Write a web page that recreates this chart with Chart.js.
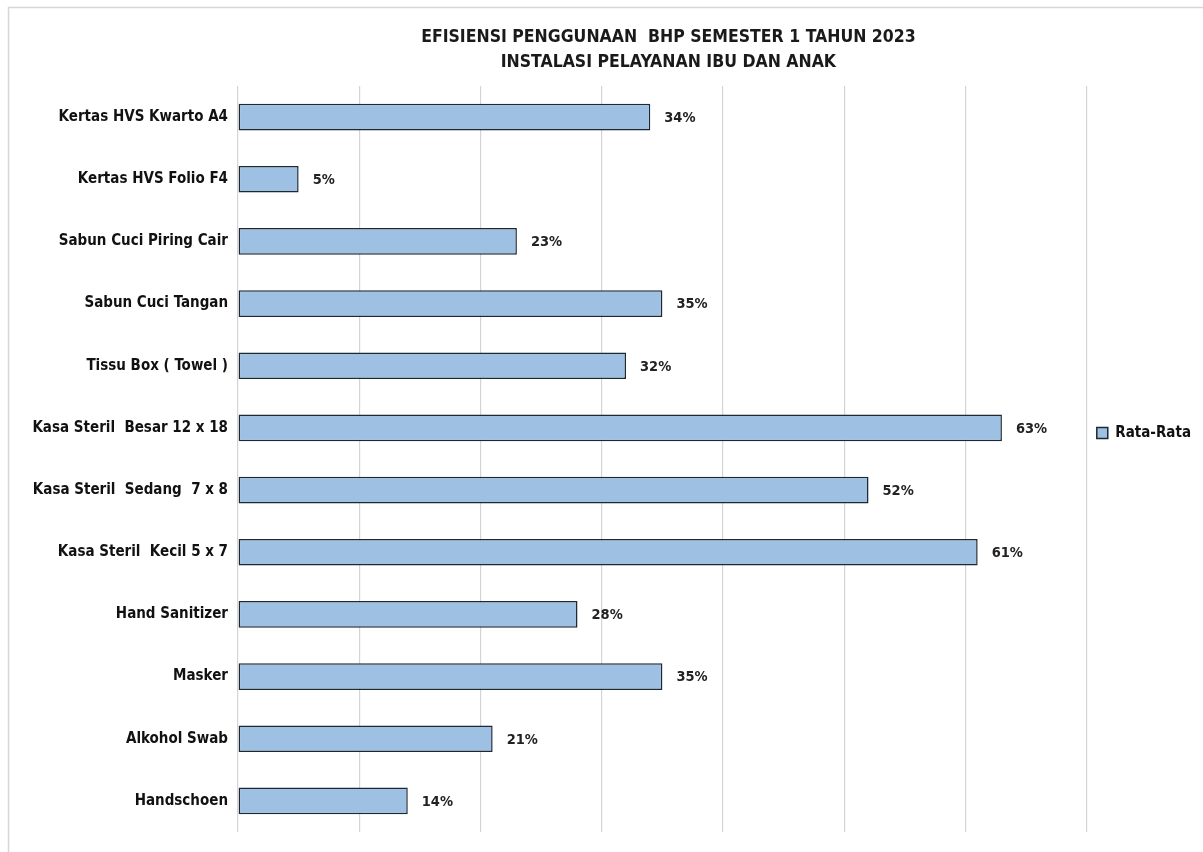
<!DOCTYPE html>
<html>
<head>
<meta charset="utf-8">
<script src="https://cdn.jsdelivr.net/npm/chart.js@4/dist/chart.umd.min.js"></script>
<style>
html,body{margin:0;padding:0;background:#fff;}
#wrap{width:1203px;height:852px;position:relative;}
</style>
</head>
<body>
<div id="wrap"><canvas id="c" width="1203" height="852"></canvas></div>
<script>
const titleLines = ["EFISIENSI PENGGUNAAN  BHP SEMESTER 1 TAHUN 2023", "INSTALASI PELAYANAN IBU DAN ANAK"];
const categories = [
  "Kertas HVS Kwarto A4",
  "Kertas HVS Folio F4",
  "Sabun Cuci Piring Cair",
  "Sabun Cuci Tangan",
  "Tissu Box ( Towel )",
  "Kasa Steril  Besar 12 x 18",
  "Kasa Steril  Sedang  7 x 8",
  "Kasa Steril  Kecil 5 x 7",
  "Hand Sanitizer",
  "Masker",
  "Alkohol Swab",
  "Handschoen"
];
const seriesName = "Rata-Rata";
const values = [34, 5, 23, 35, 32, 63, 52, 61, 28, 35, 21, 14];
const xMin = 0, xMax = 70, xStep = 10;

const FONT = "'Liberation Sans Narrow', 'DejaVu Sans Condensed', 'Arial Narrow', sans-serif";

const decor = {
  id: 'decor',
  afterLayout(chart) {
    const lg = chart.legend;
    if (lg) { lg.top -= 26; lg.bottom -= 26; }
  },
  beforeDraw(chart) {
    const ctx = chart.ctx;
    ctx.save();
    ctx.strokeStyle = '#d6d6d6';
    ctx.lineWidth = 1.5;
    ctx.beginPath();
    ctx.moveTo(8.5, 852);
    ctx.lineTo(8.5, 7.5);
    ctx.lineTo(1203, 7.5);
    ctx.stroke();
    ctx.restore();
  },
  afterDraw(chart) {
    const ctx = chart.ctx;
    const ca = chart.chartArea;
    ctx.save();
    ctx.fillStyle = '#1a1a1a';
    ctx.font = "bold 17.5px " + FONT;
    ctx.textAlign = 'center';
    ctx.textBaseline = 'middle';
    const cx = (ca.left + ca.right) / 2 + 6;
    ctx.fillText(titleLines[0], cx, 37);
    ctx.fillText(titleLines[1], cx, 62);
    // value labels
    const meta = chart.getDatasetMeta(0);
    ctx.font = "bold 14.5px " + FONT;
    ctx.textAlign = 'left';
    ctx.fillStyle = '#222';
    meta.data.forEach((bar, i) => {
      ctx.fillText(values[i] + '%', bar.x + 14, bar.y + 1);
    });
    ctx.restore();
  }
};

new Chart(document.getElementById('c'), {
  type: 'bar',
  data: {
    labels: categories,
    datasets: [{
      label: seriesName,
      data: values,
      backgroundColor: '#9dc0e3',
      borderColor: '#1e2833',
      borderWidth: 1.5,
      borderSkipped: false,
      categoryPercentage: 1,
      barPercentage: 0.43
    }]
  },
  options: {
    indexAxis: 'y',
    responsive: false,
    animation: false,
    events: [],
    layout: { padding: { left: 8, top: 86, bottom: 20, right: 2 } },
    plugins: {
      title: { display: false },
      tooltip: { enabled: false },
      legend: {
        display: true,
        position: 'right',
        labels: {
          boxWidth: 11,
          boxHeight: 11,
          padding: 10,
          color: '#111',
          font: { family: FONT, size: 15, weight: 'bold' }
        }
      }
    },
    scales: {
      x: {
        min: xMin, max: xMax,
        ticks: { display: false, stepSize: xStep },
        grid: { color: '#d4d4d4', lineWidth: 1.2, drawTicks: false },
        border: { display: false }
      },
      y: {
        ticks: { color: '#111', font: { family: FONT, size: 15, weight: 'bold' }, padding: 10 },
        grid: { display: false, drawTicks: false },
        border: { display: false },
        afterFit(scale) { scale.width = 230; }
      }
    }
  },
  plugins: [decor]
});
</script>
</body>
</html>
